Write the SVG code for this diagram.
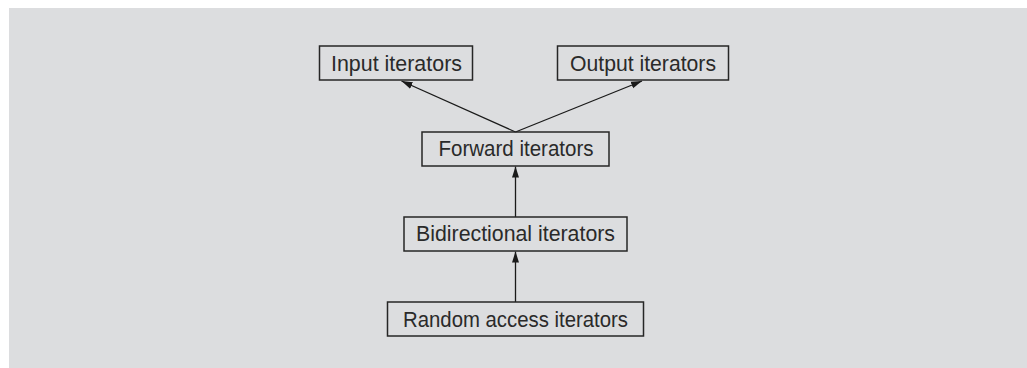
<svg xmlns="http://www.w3.org/2000/svg" width="1027" height="368" viewBox="0 0 1027 368">
<style>
.box{fill:none;stroke:#262626;stroke-width:1.5}
.lbl{font-family:"Liberation Sans",Arial,sans-serif;font-size:22px;fill:#2a2a2a;text-anchor:start}
.conn{stroke:#1a1a1a;stroke-width:1.3;fill:none;marker-end:url(#ah)}
</style>
<defs>
<marker id="ah" viewBox="0 0 11 8" refX="11" refY="4" markerWidth="11" markerHeight="8" markerUnits="userSpaceOnUse" orient="auto">
<path d="M0,0.5 L11,4 L0,7.5 z" fill="#1a1a1a"/>
</marker>
</defs>
<rect x="9" y="8" width="1018" height="360" fill="#dcdddf"/>
<g id="connectors">
<line class="conn" x1="515.5" y1="132" x2="401.5" y2="81"/>
<line class="conn" x1="515.5" y1="132" x2="642" y2="81"/>
<line class="conn" x1="515.5" y1="217" x2="515.5" y2="166.5"/>
<line class="conn" x1="515.5" y1="302" x2="515.5" y2="251.5"/>
</g>
<g id="input">
<rect class="box" x="319.5" y="46" width="153" height="34"/>
<text class="lbl" x="331" y="70.5" textLength="131" lengthAdjust="spacingAndGlyphs">Input iterators</text>
</g>
<g id="output">
<rect class="box" x="557.5" y="46" width="171" height="34"/>
<text class="lbl" x="570" y="70.5" textLength="146" lengthAdjust="spacingAndGlyphs">Output iterators</text>
</g>
<g id="forward">
<rect class="box" x="422" y="132" width="187" height="34"/>
<text class="lbl" x="438.5" y="156" textLength="155" lengthAdjust="spacingAndGlyphs">Forward iterators</text>
</g>
<g id="bidirectional">
<rect class="box" x="404" y="217" width="223" height="34"/>
<text class="lbl" x="416" y="241" textLength="199" lengthAdjust="spacingAndGlyphs">Bidirectional iterators</text>
</g>
<g id="random">
<rect class="box" x="387.5" y="302" width="256" height="34"/>
<text class="lbl" x="403" y="326.5" textLength="225" lengthAdjust="spacingAndGlyphs">Random access iterators</text>
</g>
</svg>
